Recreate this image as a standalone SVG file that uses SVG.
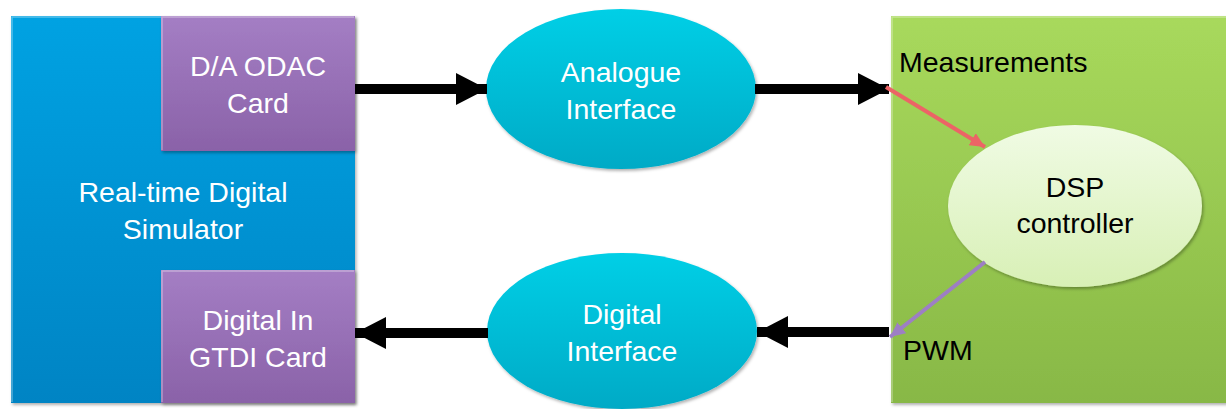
<svg xmlns="http://www.w3.org/2000/svg" width="1226" height="409" viewBox="0 0 1226 409">
  <defs>
    <linearGradient id="gBlue" x1="0" y1="0" x2="0" y2="1">
      <stop offset="0" stop-color="#00a2e2"/>
      <stop offset="1" stop-color="#0084c4"/>
    </linearGradient>
    <linearGradient id="gPurple" x1="0" y1="0" x2="0" y2="1">
      <stop offset="0" stop-color="#a47ec4"/>
      <stop offset="1" stop-color="#8a62a8"/>
    </linearGradient>
    <linearGradient id="gGreen" x1="0" y1="0" x2="0" y2="1">
      <stop offset="0" stop-color="#a8d95c"/>
      <stop offset="1" stop-color="#88b846"/>
    </linearGradient>
    <linearGradient id="gCyan" x1="0" y1="0" x2="0" y2="1">
      <stop offset="0" stop-color="#00cfe6"/>
      <stop offset="1" stop-color="#00aac6"/>
    </linearGradient>
    <linearGradient id="gLight" x1="0" y1="0" x2="0" y2="1">
      <stop offset="0" stop-color="#f0fbe4"/>
      <stop offset="1" stop-color="#d8f0b6"/>
    </linearGradient>
    <filter id="shadow" x="-10%" y="-10%" width="120%" height="120%">
      <feDropShadow dx="1.5" dy="2" stdDeviation="1.5" flood-color="#000" flood-opacity="0.3"/>
    </filter>
    <marker id="bigHead" markerUnits="userSpaceOnUse" markerWidth="32" markerHeight="32" viewBox="0 0 32 32" refX="31" refY="16" orient="auto">
      <path d="M0,0 L31,16 L0,32 Z" fill="#000"/>
    </marker>
    <marker id="redHead" markerUnits="userSpaceOnUse" markerWidth="16" markerHeight="14" viewBox="0 0 16 14" refX="15" refY="7" orient="auto">
      <path d="M0,0 L15,7 L0,14 Z" fill="#ec6466"/>
    </marker>
    <marker id="purpleHead" markerUnits="userSpaceOnUse" markerWidth="16" markerHeight="14" viewBox="0 0 16 14" refX="15" refY="7" orient="auto">
      <path d="M0,0 L15,7 L0,14 Z" fill="#9d7fc4"/>
    </marker>
  </defs>
  <style>
    .lbl { font-family: "Liberation Sans", Arial, sans-serif; font-size: 28.5px; }
    .w { fill: #ffffff; }
    .k { fill: #000000; }
    .mid { text-anchor: middle; }
    .thick { stroke: #000; stroke-width: 10; fill: none; }
    .edge { stroke: #ffffff; stroke-opacity: 0.35; stroke-width: 1.5; fill: none; }
  </style>
  <rect width="1226" height="409" fill="#ffffff"/>

  <g id="simulator">
    <rect x="11" y="16" width="344" height="387" fill="url(#gBlue)" filter="url(#shadow)"/>
    <path class="edge" d="M12,402 L12,17 L354,17"/>
    <text class="lbl w mid" x="183" y="202">Real-time Digital</text>
    <text class="lbl w mid" x="183" y="239">Simulator</text>
  </g>

  <g id="odac-card">
    <rect x="161" y="16" width="194" height="135" fill="url(#gPurple)" filter="url(#shadow)"/>
    <path class="edge" d="M162,150 L162,17 L354,17"/>
    <text class="lbl w mid" x="258" y="76">D/A ODAC</text>
    <text class="lbl w mid" x="258" y="113">Card</text>
  </g>

  <g id="gtdi-card">
    <rect x="161" y="270" width="194" height="133" fill="url(#gPurple)" filter="url(#shadow)"/>
    <path class="edge" d="M162,402 L162,271 L354,271"/>
    <text class="lbl w mid" x="258" y="330">Digital In</text>
    <text class="lbl w mid" x="258" y="367">GTDI Card</text>
  </g>

  <g id="analogue-interface">
    <ellipse cx="621" cy="89" rx="135" ry="80" fill="url(#gCyan)" filter="url(#shadow)"/>
    <text class="lbl w mid" x="621" y="82">Analogue</text>
    <text class="lbl w mid" x="621" y="119">Interface</text>
  </g>

  <g id="digital-interface">
    <ellipse cx="622" cy="331" rx="135" ry="78" fill="url(#gCyan)" filter="url(#shadow)"/>
    <text class="lbl w mid" x="622" y="324">Digital</text>
    <text class="lbl w mid" x="622" y="361">Interface</text>
  </g>

  <g id="dsp-board">
    <rect x="891" y="16" width="345" height="387" fill="url(#gGreen)" filter="url(#shadow)"/>
    <path class="edge" d="M892,402 L892,17 L1226,17"/>
    <text class="lbl k" x="899" y="72">Measurements</text>
    <text class="lbl k" x="903" y="360">PWM</text>
  </g>

  <g id="dsp-controller">
    <ellipse cx="1075" cy="206" rx="127" ry="81" fill="url(#gLight)" filter="url(#shadow)"/>
    <text class="lbl k mid" x="1075" y="197">DSP</text>
    <text class="lbl k mid" x="1075" y="233">controller</text>
  </g>

  <g id="connectors">
    <line class="thick" x1="355" y1="89" x2="487" y2="89" marker-end="url(#bigHead)"/>
    <line class="thick" x1="755" y1="89" x2="889" y2="89" marker-end="url(#bigHead)"/>
    <line class="thick" x1="889" y1="332" x2="757" y2="332" marker-end="url(#bigHead)"/>
    <line class="thick" x1="488" y1="333" x2="355" y2="333" marker-end="url(#bigHead)"/>
    <line x1="886" y1="87" x2="985" y2="147" stroke="#ec6466" stroke-width="4" marker-end="url(#redHead)"/>
    <line x1="985" y1="262" x2="890" y2="337" stroke="#9d7fc4" stroke-width="4" marker-end="url(#purpleHead)"/>
  </g>
</svg>
